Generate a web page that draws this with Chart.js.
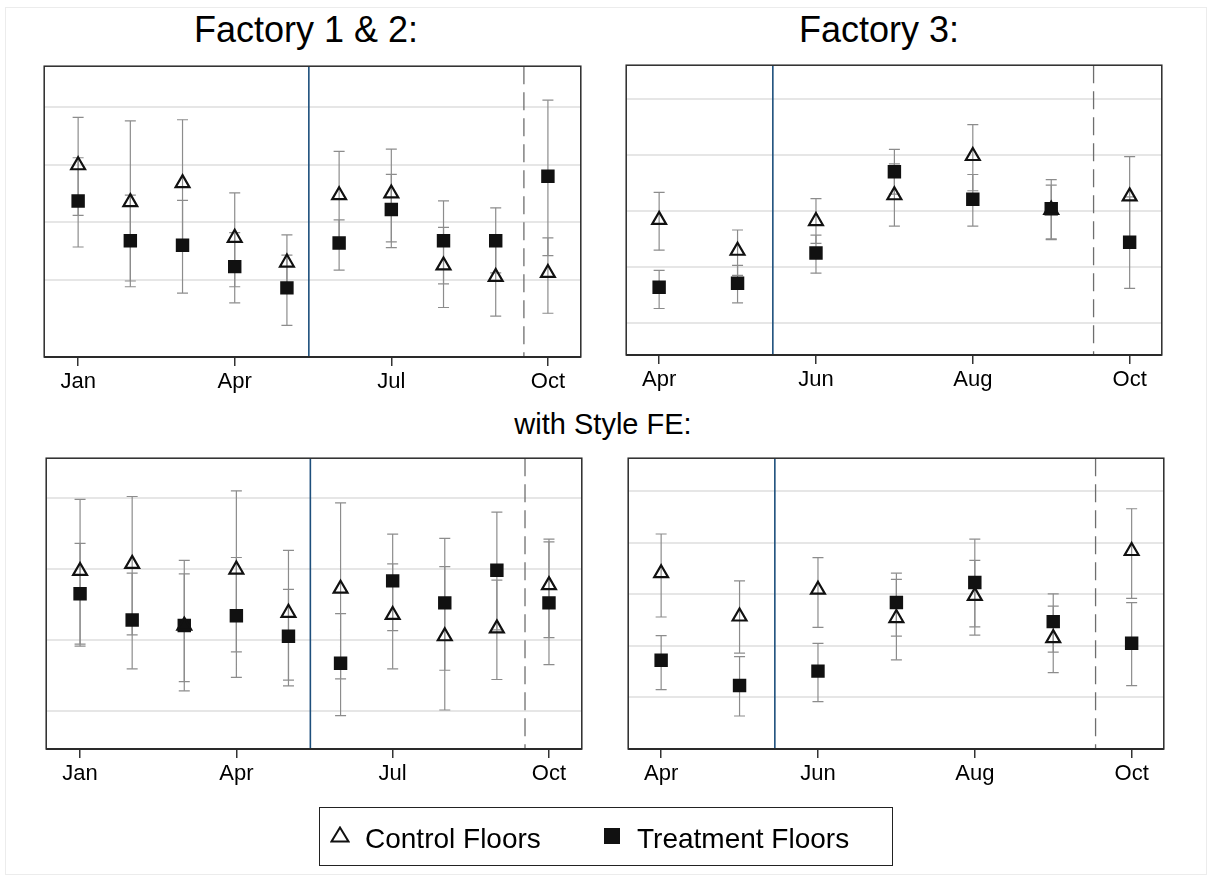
<!DOCTYPE html>
<html>
<head>
<meta charset="utf-8">
<title>Control vs Treatment Floors</title>
<script src="https://cdn.jsdelivr.net/npm/chart.js@4.4.1/dist/chart.umd.min.js"></script>
<style>
  body { margin: 0; background: #fff; font-family: "Liberation Sans", Arial, Helvetica, sans-serif; }
  #page { position: relative; width: 1207px; height: 879px; overflow: hidden; background: #fff; }
  .frame { position: absolute; left: 5px; top: 7px; width: 1202px; height: 868px; border: 1px solid #ececec; box-sizing: border-box; }
  .title { position: absolute; line-height: 1; white-space: nowrap; color: #000; transform: translateX(-50%); }
  .txt { position: absolute; line-height: 1; white-space: nowrap; color: #000; }
  canvas { position: absolute; }
  #legend { position: absolute; left: 319px; top: 807px; width: 574px; height: 59px; border: 1.5px solid #222; box-sizing: border-box; }
  .mk { position: absolute; }
</style>
</head>
<body>
<div id="page">
  <div class="frame"></div>

  <div class="title" style="left:306px; top:12px; font-size:36px;">Factory 1 &amp; 2:</div>
  <div class="title" style="left:879px; top:12px; font-size:36px;">Factory 3:</div>
  <div class="title" style="left:603px; top:410px; font-size:29px;">with Style FE:</div>

  <canvas id="p1" width="557" height="361" style="left:34px; top:56px;"></canvas>
  <canvas id="p2" width="556" height="360" style="left:616px; top:55px;"></canvas>
  <canvas id="p3" width="556" height="361" style="left:36px; top:448px;"></canvas>
  <canvas id="p4" width="556" height="361" style="left:618px; top:448px;"></canvas>

  <div id="legend"></div>
  <svg class="mk" style="left:330px; top:826px;" width="20" height="17">
    <polygon points="10,1.5 18.5,15.5 1.5,15.5" fill="none" stroke="#111" stroke-width="2"/>
  </svg>
  <div class="txt" style="left:365px; top:825px; font-size:28px;">Control Floors</div>
  <div class="mk" style="left:604px; top:828px; width:16px; height:16px; background:#111;"></div>
  <div class="txt" style="left:637px; top:825px; font-size:28px;">Treatment Floors</div>
</div>

<script>
// ---- data (values in gridline units) ----
var monthNames = ['', 'Jan', 'Feb', 'Mar', 'Apr', 'May', 'Jun', 'Jul', 'Aug', 'Sep', 'Oct'];

// Factory 1 & 2 : Jan..Oct
var f12Months = [1, 2, 3, 4, 5, 6, 7, 8, 9, 10];
var f12Ticks = [1, 4, 7, 10];
var f12Grid = [1, 2, 3, 4];
var f12Events = [5.42, 9.54];   // solid blue, dashed grey

var f12Ctrl   = [2.99, 2.35, 2.68, 1.73, 1.30, 2.47, 2.50, 1.25, 1.05, 1.12];
var f12CtrlLo = [2.12, 0.98, 1.58, 0.88, 0.79, 1.71, 1.66, 0.52, 0.37, 0.42];
var f12CtrlHi = [3.82, 3.76, 3.78, 2.51, 1.78, 3.23, 3.27, 1.91, 1.72, 1.73];
var f12Trt    = [2.37, 1.68, 1.60, 1.23, 0.86, 1.64, 2.22, 1.68, 1.68, 2.80];
var f12TrtLo  = [1.57, 0.88, 0.77, 0.60, 0.21, 1.17, 1.56, 0.93, 1.12, 1.42];
var f12TrtHi  = [3.12, 2.47, 2.38, 1.82, 1.43, 2.04, 2.83, 2.37, 2.25, 4.12];

// Factory 3 : Apr..Oct
var f3Months = [4, 5, 6, 7, 8, 9, 10];
var f3Ticks = [4, 6, 8, 10];
var f3Grid = [1, 2, 3, 4, 5];
var f3Events = [5.45, 9.54];

var f3Ctrl   = [2.84, 2.29, 2.82, 3.28, 3.98, 3.02, 3.26];
var f3CtrlLo = [2.30, 1.85, 2.42, 2.73, 3.36, 2.50, 2.54];
var f3CtrlHi = [3.33, 2.66, 3.22, 3.84, 4.54, 3.56, 3.97];
var f3Trt    = [1.64, 1.71, 2.25, 3.70, 3.21, 3.04, 2.44];
var f3TrtLo  = [1.26, 1.36, 1.89, 3.30, 2.73, 2.49, 1.62];
var f3TrtHi  = [1.94, 2.03, 2.57, 4.10, 3.65, 3.46, 3.25];

// with Style FE, Factory 1 & 2
var fe12Ctrl   = [2.97, 3.07, 2.20, 2.99, 2.38, 2.72, 2.35, 2.05, 2.16, 2.77];
var fe12CtrlLo = [1.94, 2.07, 1.28, 1.83, 1.43, 1.45, 1.59, 1.01, 1.44, 2.03];
var fe12CtrlHi = [3.98, 4.02, 3.12, 4.10, 3.26, 3.93, 3.07, 3.03, 2.84, 3.42];
var fe12Trt    = [2.65, 2.28, 2.20, 2.34, 2.05, 1.67, 2.83, 2.52, 2.98, 2.52];
var fe12TrtLo  = [1.91, 1.59, 1.41, 1.47, 1.35, 0.93, 2.13, 1.57, 2.14, 1.65];
var fe12TrtHi  = [3.36, 2.94, 2.93, 3.16, 2.71, 2.37, 3.49, 3.43, 3.80, 3.38];

// with Style FE, Factory 3
var fe3Ctrl   = [3.41, 2.57, 3.09, 2.54, 2.97, 2.15, 3.84];
var fe3CtrlLo = [2.56, 1.86, 2.36, 1.73, 2.21, 1.48, 2.92];
var fe3CtrlHi = [4.17, 3.26, 3.71, 3.29, 3.66, 2.77, 4.66];
var fe3Trt    = [1.72, 1.23, 1.51, 2.84, 3.23, 2.47, 2.05];
var fe3TrtLo  = [1.15, 0.64, 0.92, 2.19, 2.37, 1.88, 1.23];
var fe3TrtHi  = [2.20, 1.79, 2.05, 3.41, 4.07, 3.01, 2.84];

// ---- helpers ----
function points(months, vals) {
  return months.map(function (m, i) { return { x: m, y: vals[i] }; });
}

// lo -> hi segment per month, broken by a null point
function ciPoints(months, lo, hi) {
  var out = [];
  months.forEach(function (m, i) {
    out.push({ x: m, y: lo[i] }, { x: m, y: hi[i] }, { x: m, y: null });
  });
  return out;
}

var framePlugin = {
  id: 'frame',
  afterDraw: function (chart) {
    var a = chart.chartArea, c = chart.ctx;
    c.save();
    c.strokeStyle = '#2a2a2a';
    c.lineWidth = 1.5;
    c.strokeRect(a.left, a.top, a.right - a.left, a.bottom - a.top);
    c.lineWidth = 2;
    c.beginPath();
    c.moveTo(a.left, a.bottom);
    c.lineTo(a.right, a.bottom);
    c.stroke();
    c.restore();
  }
};

function makePanel(id, p) {
  var ciStyle = {
    type: 'line', showLine: true, order: 1,
    borderColor: '#8c8c8c', borderWidth: 1.2,
    pointStyle: 'line', pointRadius: 5.5, pointBorderWidth: 1.2,
    pointBorderColor: '#8c8c8c', spanGaps: false
  };
  var datasets = [
    { label: 'Control Floors', data: points(p.months, p.ctrl), order: 0,
      pointStyle: 'triangle', pointRadius: 8, pointBorderWidth: 2.2,
      pointBorderColor: '#111', pointBackgroundColor: 'rgba(0,0,0,0)' },
    { label: 'Treatment Floors', data: points(p.months, p.trt), order: 0,
      pointStyle: 'rect', pointRadius: 9.5, pointBorderWidth: 0,
      pointBackgroundColor: '#111' },
    Object.assign({ label: 'ctrl ci', data: ciPoints(p.months, p.ctrlLo, p.ctrlHi) }, ciStyle),
    Object.assign({ label: 'trt ci', data: ciPoints(p.months, p.trtLo, p.trtHi) }, ciStyle),
    { type: 'line', label: 'start', showLine: true, order: 2, pointRadius: 0,
      borderColor: '#1d4f7c', borderWidth: 1.6,
      data: [{ x: p.events[0], y: p.yMin }, { x: p.events[0], y: p.yMax }] },
    { type: 'line', label: 'end', showLine: true, order: 2, pointRadius: 0,
      borderColor: '#6e6e6e', borderWidth: 1.3, borderDash: [18, 8],
      data: [{ x: p.events[1], y: p.yMax }, { x: p.events[1], y: p.yMin }] }
  ];

  return new Chart(document.getElementById(id), {
    type: 'scatter',
    data: { datasets: datasets },
    plugins: [framePlugin],
    options: {
      responsive: false,
      animation: false,
      events: [],
      layout: { padding: { left: 10, right: 10, top: 10, bottom: 0 } },
      plugins: { legend: { display: false }, tooltip: { enabled: false } },
      scales: {
        x: {
          type: 'linear', min: p.xMin, max: p.xMax,
          afterBuildTicks: function (axis) {
            axis.ticks = p.ticks.map(function (v) { return { value: v }; });
          },
          afterFit: function (axis) { axis.height = 60; },
          border: { display: false },
          grid: { drawOnChartArea: false, drawTicks: true, tickLength: 9,
                  color: '#333', tickColor: '#333', tickWidth: 1.5, lineWidth: 1.5 },
          ticks: {
            autoSkip: false, maxRotation: 0, padding: 3, color: '#000',
            font: { family: '"Liberation Sans", Arial, Helvetica, sans-serif', size: 22 },
            callback: function (v) { return monthNames[v]; }
          }
        },
        y: {
          type: 'linear', min: p.yMin, max: p.yMax,
          afterBuildTicks: function (axis) {
            axis.ticks = p.grid.map(function (v) { return { value: v }; });
          },
          afterFit: function (axis) { axis.width = 0; },
          border: { display: false },
          grid: { color: '#e6e6e6', lineWidth: 2, drawTicks: false },
          ticks: { display: false }
        }
      }
    }
  });
}

makePanel('p1', {
  months: f12Months, ctrl: f12Ctrl, ctrlLo: f12CtrlLo, ctrlHi: f12CtrlHi,
  trt: f12Trt, trtLo: f12TrtLo, trtHi: f12TrtHi,
  ticks: f12Ticks, grid: f12Grid, events: f12Events,
  xMin: 0.35, xMax: 10.63, yMin: -0.34, yMax: 4.71
});
makePanel('p2', {
  months: f3Months, ctrl: f3Ctrl, ctrlLo: f3CtrlLo, ctrlHi: f3CtrlHi,
  trt: f3Trt, trtLo: f3TrtLo, trtHi: f3TrtHi,
  ticks: f3Ticks, grid: f3Grid, events: f3Events,
  xMin: 3.58, xMax: 10.41, yMin: 0.43, yMax: 5.60
});
makePanel('p3', {
  months: f12Months, ctrl: fe12Ctrl, ctrlLo: fe12CtrlLo, ctrlHi: fe12CtrlHi,
  trt: fe12Trt, trtLo: fe12TrtLo, trtHi: fe12TrtHi,
  ticks: f12Ticks, grid: f12Grid, events: f12Events,
  xMin: 0.35, xMax: 10.63, yMin: 0.46, yMax: 4.56
});
makePanel('p4', {
  months: f3Months, ctrl: fe3Ctrl, ctrlLo: fe3CtrlLo, ctrlHi: fe3CtrlHi,
  trt: fe3Trt, trtLo: fe3TrtLo, trtHi: fe3TrtHi,
  ticks: f3Ticks, grid: f3Grid, events: f3Events,
  xMin: 3.58, xMax: 10.41, yMin: 0.0, yMax: 5.64
});
</script>
</body>
</html>
